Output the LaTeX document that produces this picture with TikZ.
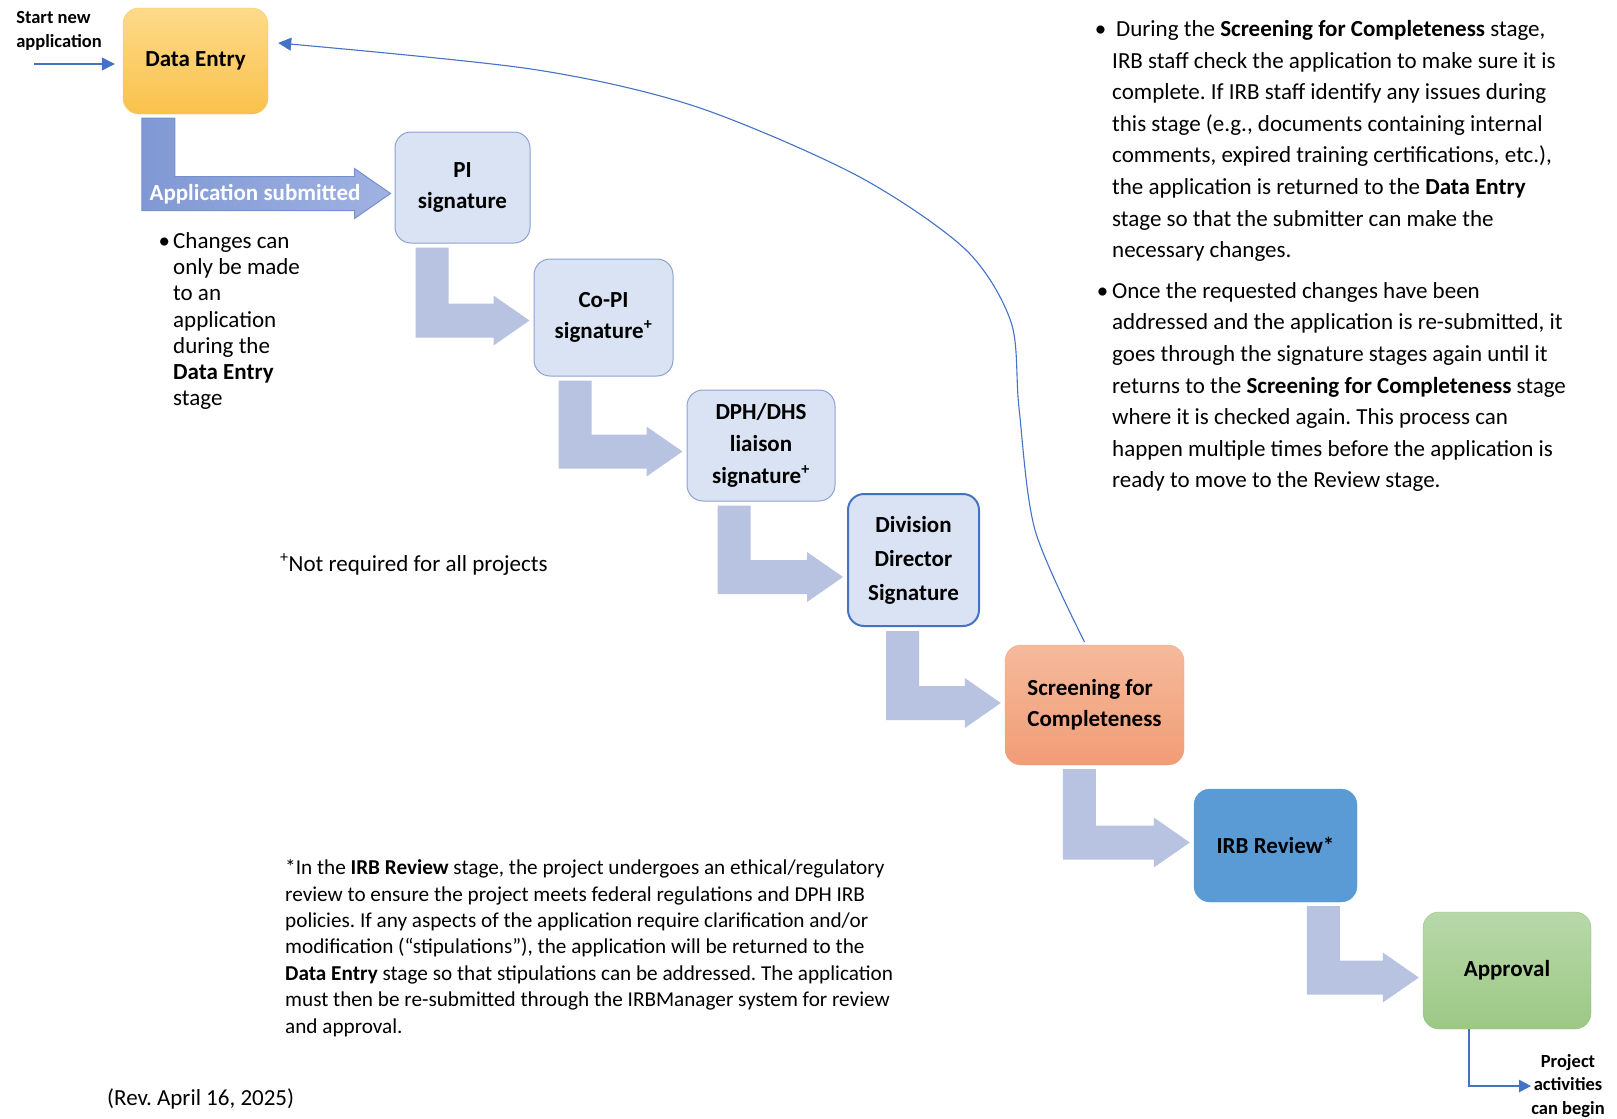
\documentclass[tikz,border=0pt]{standalone}
\usepackage{fontspec}
\setmainfont{Carlito}
\frenchspacing
\usetikzlibrary{calc}
\usetikzlibrary{arrows.meta}

% bent block arrow: from node, to node, stem offset, tip shift
\newcommand{\stagearrow}[5][flow]{%
\path[#1] ($(#2.south west)+(#4,4)$) coordinate (s)
  -- ++(33,0) |- ($(#3.west)+(-40,#5-17)$)
  -- ++(0,-8) -- ($(#3.west)+(-4,#5)$)
  -- ($(#3.west)+(-40,#5+25)$) -- ++(0,-8) -| (s) -- cycle;}

\begin{document}
\begin{tikzpicture}[x=1pt,y=-1pt,
  stage/.style={rounded corners=16, inner sep=0, align=center,
    font=\bfseries\fontsize{23}{31}\selectfont},
  sig/.style={stage, fill=sigFill, draw=sigEdge, line width=1},
  flow/.style={fill=flowFill},
  link/.style={draw=linkBlue, line width=1.3, -{Triangle[length=13pt,width=13pt]}},
  note/.style={inner sep=0, align=left, font=\fontsize{23}{26.3}\selectfont},
  small/.style={inner sep=0, align=left, font=\bfseries\fontsize{18.5}{23.5}\selectfont}]
\definecolor{deTop}{RGB}{255,218,138}
\definecolor{deBot}{RGB}{249,194,75}
\definecolor{deEdge}{RGB}{246,200,100}
\definecolor{sigFill}{RGB}{218,227,243}
\definecolor{sigEdge}{RGB}{140,162,212}
\definecolor{divEdge}{RGB}{68,114,196}
\definecolor{scrTop}{RGB}{245,186,156}
\definecolor{scrBot}{RGB}{241,156,118}
\definecolor{scrEdge}{RGB}{243,166,130}
\definecolor{irbFill}{RGB}{91,155,213}
\definecolor{apTop}{RGB}{184,216,169}
\definecolor{apBot}{RGB}{156,200,133}
\definecolor{apEdge}{RGB}{150,195,125}
\definecolor{flowFill}{RGB}{184,195,225}
\definecolor{subLeft}{RGB}{128,152,212}
\definecolor{subRight}{RGB}{160,178,226}
\definecolor{subEdge}{RGB}{118,143,207}
\definecolor{linkBlue}{RGB}{68,114,196}

\useasboundingbox (0,0) rectangle (1617,1119);

% stages
\node[stage, minimum width=145, minimum height=106, top color=deTop, bottom color=deBot, draw=deEdge] (de) at (195.5,61) {Data Entry};
\node[sig, minimum width=135, minimum height=111] (pi) at (462.5,187.5) {PI\\signature};
\node[sig, minimum width=139, minimum height=117] (copi) at (603.5,317.5) {Co-PI\\signature\textsuperscript{+}};
\node[sig, minimum width=148, minimum height=111, font=\bfseries\fontsize{23}{32}\selectfont] (dph) at (761,445.5) {DPH/DHS\\liaison\\signature\textsuperscript{+}};
\node[sig, minimum width=131, minimum height=132, draw=divEdge, line width=2, font=\bfseries\fontsize{23}{34}\selectfont] (div) at (913.5,560) {Division\\Director\\Signature};
\node[stage, minimum width=179, minimum height=120, top color=scrTop, bottom color=scrBot, draw=scrEdge, align=left] (scr) at (1094.5,705) {Screening for\\Completeness};
\node[stage, minimum width=163, minimum height=113, fill=irbFill, draw=irbFill] (irb) at (1275.5,845.5) {IRB Review*};
\node[stage, minimum width=168, minimum height=117, top color=apTop, bottom color=apBot, draw=apEdge] (appr) at (1507,970.5) {Approval};

% block arrows
\stagearrow[left color=subLeft, right color=subRight, draw=subEdge, line width=1]{de}{pi}{19}{6}
\node[inner sep=0, text=white, font=\bfseries\fontsize{23}{28}\selectfont] (sub) at (255,194) {Application submitted};
\stagearrow{pi}{copi}{21}{3}
\stagearrow{copi}{dph}{25}{6}
\stagearrow{dph}{div}{31}{17}
\stagearrow{div}{scr}{39}{-2}
\stagearrow{scr}{irb}{58}{-3}
\stagearrow{irb}{appr}{113}{7}

% thin arrows
\node[small] (start) at (59,31) {Start new\\application};
\coordinate (in) at (34,64);
\draw[link, shorten >=8pt] (in) -- (in -| de.west);

\coordinate (back) at ($(de.east)+(10,-18)$);
\draw[link, line width=1.1] plot[smooth] coordinates {($(scr.north)+(-10,-3)$) (1035,530) (1019,408) (1011,322) (965,249) (856,175) (694,106) (531,69) (back)};

\node[small, align=center] (go) at (1568,1086) {Project\\activities\\can begin};
\draw[link, line width=2.2, -{Triangle[length=12pt,width=12pt]}] ($(appr.south)+(-38,0)$) |- (go.west);

% notes
\node[note, anchor=west] (changes) at (173,321) {\makebox[0pt][r]{•\hspace{3pt}}Changes can\\only be made\\to an\\application\\during the\\\textbf{Data Entry}\\stage};
\node[note, anchor=west] (plus) at (280,565) {\textsuperscript{+}Not required for all projects};

\node[note, anchor=west, font=\fontsize{23}{31.6}\selectfont] (screen) at (1112,141) {\makebox[0pt][r]{•\hspace{6pt}}\hspace{4pt}During the \textbf{Screening for Completeness} stage,\\
IRB staff check the application to make sure it is\\
complete. If IRB staff identify any issues during\\
this stage (e.g., documents containing internal\\
comments, expired training certifications, etc.),\\
the application is returned to the \textbf{Data Entry}\\
stage so that the submitter can make the\\
necessary changes.};
\node[note, anchor=west, font=\fontsize{23}{31.6}\selectfont] (again) at (1112,387) {\makebox[0pt][r]{•\hspace{4pt}}Once the requested changes have been\\
addressed and the application is re-submitted, it\\
goes through the signature stages again until it\\
returns to the \textbf{Screening for Completeness} stage\\
where it is checked again. This process can\\
happen multiple times before the application is\\
ready to move to the Review stage.};

\node[note, anchor=west, font=\fontsize{21.2}{26.4}\selectfont] (review) at (285,948) {*In the \textbf{IRB Review} stage, the project undergoes an ethical/regulatory\\
review to ensure the project meets federal regulations and DPH IRB\\
policies. If any aspects of the application require clarification and/or\\
modification (“stipulations”), the application will be returned to the\\
\textbf{Data Entry} stage so that stipulations can be addressed. The application\\
must then be re-submitted through the IRBManager system for review\\
and approval.};
\node[note, anchor=west] (rev) at (107,1099) {(Rev. April 16, 2025)};
\end{tikzpicture}
\end{document}
